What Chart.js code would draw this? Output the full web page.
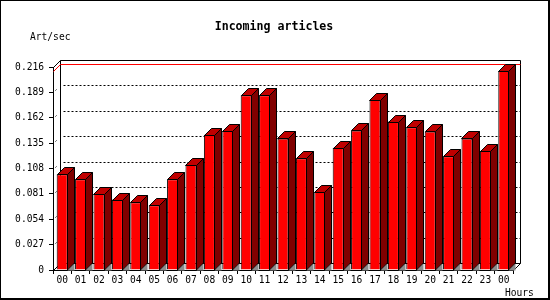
<!DOCTYPE html>
<html><head><meta charset="utf-8">
<script src="https://cdn.jsdelivr.net/npm/chart.js@4/dist/chart.umd.min.js"></script>
<style>html,body{margin:0;padding:0;background:#fff}#wrap{width:550px;height:300px;position:relative}</style>
</head><body><div id="wrap"><canvas id="c" width="550" height="300"></canvas></div>
<script>
// ---- data ----
const hours = ['00','01','02','03','04','05','06','07','08','09','10','11','12','13','14','15','16','17','18','19','20','21','22','23','00'];
const artPerSec = [0.102,0.0965,0.081,0.075,0.072,0.069,0.0965,0.112,0.144,0.148,0.186,0.186,0.140,0.119,0.083,0.130,0.1485,0.181,0.158,0.152,0.1475,0.121,0.140,0.127,0.2117];
const yTicks = [0,0.027,0.054,0.081,0.108,0.135,0.162,0.189,0.216];
const titleText = 'Incoming articles';
const yAxisTitle = 'Art/sec';
const xAxisTitle = 'Hours';
const maxLineValue = Math.max(...artPerSec);

// ---- style ----
const DX = 7, DY = 7;
const FRONT = '#ff0000', SIDE = '#800000', TOP = '#c00000', FLOOR = '#8c8c8c';
const MONO = '"DejaVu Sans Mono", "Liberation Mono", monospace';

function poly(ctx, pts, fill, stroke){
  ctx.beginPath();
  ctx.moveTo(pts[0][0], pts[0][1]);
  for (let i=1;i<pts.length;i++) ctx.lineTo(pts[i][0], pts[i][1]);
  ctx.closePath();
  if (fill){ ctx.fillStyle = fill; ctx.fill(); }
  if (stroke){ ctx.strokeStyle = stroke; ctx.stroke(); }
}
function seg(ctx, x1,y1,x2,y2){ ctx.beginPath(); ctx.moveTo(x1,y1); ctx.lineTo(x2,y2); ctx.stroke(); }

const threeD = {
  id: 'threeD',
  beforeDraw(chart){
    const ctx = chart.ctx; ctx.save(); ctx.fillStyle = '#fff'; ctx.fillRect(0,0,chart.width,chart.height); ctx.restore();
  },
  beforeDatasetsDraw(chart){
    const {ctx, chartArea:a, scales:{y}} = chart;
    const L = Math.round(a.left)+0.5, R = Math.round(a.right)+0.5, T = Math.round(a.top)+0.5, B = Math.round(a.bottom)+0.5;
    ctx.save();
    ctx.lineWidth = 1; ctx.strokeStyle = '#000';
    // dotted grid on back wall
    ctx.setLineDash([2,2]);
    yTicks.forEach(v => {
      if (v <= 0 || v >= yTicks[yTicks.length-1]) return;
      const py = Math.round(y.getPixelForValue(v)) - DY + 0.5;
      seg(ctx, L+DX+3, py, R+DX, py);
    });
    ctx.setLineDash([]);
    // stubs on left wall
    yTicks.forEach(v => {
      if (v <= 0 || v >= yTicks[yTicks.length-1]) return;
      const py = Math.round(y.getPixelForValue(v)) + 0.5;
      seg(ctx, L+2, py-2, L+3, py-3);
    });
    // back plane frame
    seg(ctx, L+DX, T-DY, R+DX, T-DY);
    seg(ctx, L+DX, T-DY, L+DX, B-DY);
    seg(ctx, R+DX, T-DY, R+DX, B-DY);
    seg(ctx, L+DX, B-DY, R+DX, B-DY);
    seg(ctx, L, T, L+DX, T-DY);
    seg(ctx, L, B, L+DX, B-DY);
    seg(ctx, R, B, R+DX, B-DY);
    // red max line
    const my = Math.round(y.getPixelForValue(maxLineValue)) + 0.5;
    ctx.strokeStyle = '#ff0000';
    ctx.beginPath(); ctx.moveTo(L, my); ctx.lineTo(L+DX, my-DY); ctx.lineTo(R+DX, my-DY); ctx.stroke();
    ctx.restore();
  },
  afterDatasetsDraw(chart){
    const ctx = chart.ctx;
    const meta = chart.getDatasetMeta(0);
    ctx.save(); ctx.lineWidth = 1;
    meta.data.forEach(bar => {
      const p = bar.getProps(['x','y','base','width'], true);
      const xl = Math.round(p.x - p.width/2) + 0.5;
      const xr = Math.round(p.x + p.width/2) - 0.5;
      const yt = Math.round(p.y) + 0.5;
      const yb = Math.round(p.base);
      poly(ctx, [[xr, yb+0.5],[xr+DX, yb-DY+0.5],[xr+DX, yb+0.5]], FLOOR, null);
      poly(ctx, [[xr,yt],[xr+DX,yt-DY],[xr+DX,yb-DY],[xr,yb]], SIDE, '#000');
      poly(ctx, [[xl,yt],[xl+DX,yt-DY],[xr+DX,yt-DY],[xr,yt]], TOP, '#000');
    });
    ctx.restore();
  },
  afterDraw(chart){
    const ctx = chart.ctx;
    ctx.save();
    ctx.fillStyle = '#000';
    ctx.textBaseline = 'middle';
    ctx.font = 'bold 11.6px ' + MONO;
    ctx.textAlign = 'center';
    ctx.fillText(titleText, 274, 27);
    ctx.font = '9.6px ' + MONO;
    ctx.textAlign = 'left';
    ctx.fillText(yAxisTitle, 30, 37);
    ctx.fillText(xAxisTitle, 505, 293);
    // outer frame
    ctx.fillRect(0,0,550,1);
    ctx.fillRect(0,0,1,300);
    ctx.fillRect(548,0,2,300);
    ctx.fillRect(0,298,550,2);
    ctx.restore();
  }
};

new Chart(document.getElementById('c'), {
  type: 'bar',
  data: {
    labels: hours,
    datasets: [{
      label: titleText,
      data: artPerSec,
      backgroundColor: FRONT,
      borderColor: '#000',
      borderWidth: 1,
      borderSkipped: 'start',
      barPercentage: 0.6,
      categoryPercentage: 1.0
    }]
  },
  options: {
    responsive: false,
    devicePixelRatio: 1,
    animation: false,
    layout: { padding: { left: 0, right: 37, top: 67, bottom: 0 } },
    plugins: {
      legend: { display: false },
      tooltip: { enabled: false },
      title: { display: false }
    },
    scales: {
      x: {
        offset: true,
        grid: { display: true, drawOnChartArea: false, drawTicks: true, tickLength: 4, color: '#000', offset: true },
        border: { display: true, color: '#000', width: 1 },
        ticks: { color: '#000', font: { family: MONO, size: 9.6 }, padding: 1, maxRotation: 0, autoSkip: false },
        afterFit(s){ s.height = 30; }
      },
      y: {
        min: 0, max: yTicks[yTicks.length-1],
        afterBuildTicks(s){ s.ticks = yTicks.map(v => ({ value: v })); },
        grid: { display: true, drawOnChartArea: false, drawTicks: true, tickLength: 4, color: '#000' },
        border: { display: true, color: '#000', width: 1 },
        ticks: {
          color: '#000', font: { family: MONO, size: 9.6 }, padding: 5,
          callback(v){ return v === 0 ? '0' : Number(v).toFixed(3); }
        },
        afterFit(s){ s.width = 53; }
      }
    }
  },
  plugins: [threeD]
});
</script>
</body></html>
